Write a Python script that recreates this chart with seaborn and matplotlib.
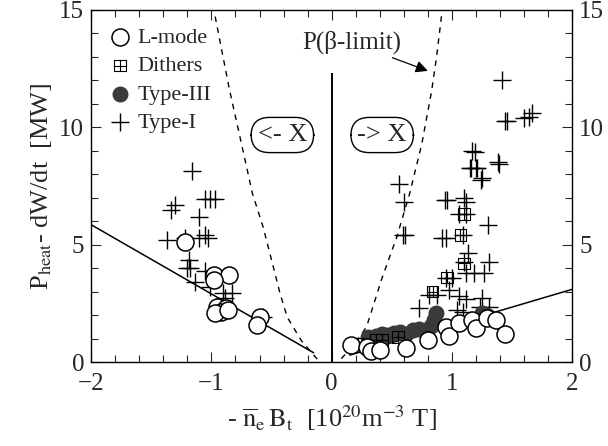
import numpy as np
import pandas as pd
import matplotlib
matplotlib.use("Agg")
import matplotlib.pyplot as plt
from matplotlib.path import Path
from matplotlib.ticker import MultipleLocator
import seaborn as sns

sns.set_theme(style="ticks")
plt.rcParams['font.family'] = ['Liberation Serif', 'DejaVu Serif']
plt.rcParams['mathtext.fontset'] = 'stix'

# ---------------- data ----------------
lmode_x = [-1.22, -0.98, -0.85, -0.98, -0.95, -0.88, -0.92, -0.97, -0.86, -0.60, -0.62,
           0.16, 0.29, 0.33, 0.40, 0.62, 0.80, 0.95, 0.98, 1.06, 1.17, 1.20, 1.29, 1.37, 1.44]
lmode_y = [5.10, 3.70, 3.70, 3.50, 2.35, 2.30, 2.15, 2.10, 2.20, 1.92, 1.57,
           0.75, 0.65, 0.47, 0.50, 0.60, 0.95, 1.50, 1.10, 1.65, 1.80, 1.45, 1.90, 1.80, 1.20]

dither_x = [0.22, 0.37, 0.42, 0.55, 0.84, 1.10, 1.07, 1.10, 0.96]
dither_y = [0.80, 0.94, 0.94, 1.07, 3.00, 4.20, 5.40, 6.30, 3.60]

type3_x = [0.30, 0.37, 0.42, 0.47, 0.52, 0.57, 0.62, 0.68, 0.73, 0.83, 0.85, 0.87, 1.25, 1.30]
type3_y = [1.05, 1.10, 1.20, 1.15, 1.25, 1.30, 1.20, 1.35, 1.40, 1.55, 1.80, 2.10, 2.10, 1.95]

type1_x = [-1.16, -1.34, -1.30, -1.05, -1.01, -0.97, -1.10, -1.37, -1.22, -1.10, -1.05, -1.03,
           -1.19, -1.20, -1.18, -1.05, -1.14, -1.01, -0.90, -0.83, -0.89, -0.57,
           0.56, 0.60, 0.59, 0.61, 1.19, 1.16, 1.21, 1.25, 1.38, 0.94, 0.96, 1.12, 1.06, 1.12,
           1.30, 0.92, 0.95, 1.09, 1.13, 1.10, 1.31, 0.95, 1.00, 1.12, 1.18, 1.27, 0.81, 0.88,
           0.98, 1.06, 1.12, 1.25, 0.73, 1.04, 1.09, 1.23, 1.31,
           1.42, 1.44, 1.46, 1.60, 1.64, 1.67, 1.17, 1.39, 1.15, 1.20, 1.24, 1.10]
type1_y = [8.15, 6.48, 6.70, 6.95, 6.95, 6.95, 6.20, 5.20, 5.28, 5.28, 5.40, 5.28,
           4.35, 4.00, 4.00, 3.90, 3.40, 3.20, 2.94, 2.94, 2.73, 1.92,
           7.60, 6.80, 5.40, 5.40, 8.95, 8.27, 8.27, 7.85, 8.50, 6.90, 6.90, 6.80, 6.30, 6.30,
           5.84, 5.28, 5.28, 5.40, 4.64, 4.26, 4.26, 3.60, 3.60, 3.80, 3.80, 3.80, 2.86, 2.86,
           3.07, 2.80, 2.70, 2.75, 2.30, 2.20, 2.15, 2.34, 2.34,
           12.00, 10.27, 10.27, 10.40, 10.45, 10.60, 9.00, 8.45, 8.27, 8.27, 7.75, 7.00]

# threshold lines
left_fit_x = [-2.0, -0.15]
left_fit_y = [5.85, 0.40]
right_fit_x = [0.15, 2.0]
right_fit_y = [0.30, 3.10]

# beta-limit curves
beta_r_x = [0.08, 0.18, 0.29, 0.42, 0.54, 0.65, 0.75, 0.83, 0.87, 0.92]
beta_r_y = [0.15, 0.70, 1.50, 3.60, 5.30, 7.20, 9.30, 11.50, 12.90, 15.0]
beta_l_x = [-0.12, -0.25, -0.37, -0.43, -0.50, -0.57, -0.66, -0.72, -0.85, -0.98]
beta_l_y = [0.13, 0.90, 1.92, 2.94, 4.35, 5.75, 7.20, 8.60, 11.60, 15.0]

zero_line_top = 12.3

# ---------------- figure ----------------
fig = plt.figure(figsize=(6.08, 4.46), dpi=100)
ax = fig.add_axes([0.150, 0.188, 0.791, 0.790])

# boxed-plus marker for dithers
box_plus = Path(
    [(-1, -1), (1, -1), (1, 1), (-1, 1), (-1, -1), (-1, 0), (1, 0), (0, -1), (0, 1)],
    [Path.MOVETO, Path.LINETO, Path.LINETO, Path.LINETO, Path.CLOSEPOLY,
     Path.MOVETO, Path.LINETO, Path.MOVETO, Path.LINETO])

sns.lineplot(x=left_fit_x, y=left_fit_y, ax=ax, color='black', lw=1.1, sort=False,
             estimator=None)
sns.lineplot(x=right_fit_x, y=right_fit_y, ax=ax, color='black', lw=1.1, sort=False,
             estimator=None)
sns.lineplot(x=beta_r_x, y=beta_r_y, ax=ax, color='black', lw=1.0, sort=False,
             estimator=None, linestyle=(0, (4, 4)))
sns.lineplot(x=beta_l_x, y=beta_l_y, ax=ax, color='black', lw=1.0, sort=False,
             estimator=None, linestyle=(0, (4, 4)))
ax.vlines(0, 0, zero_line_top, color='black', lw=1.4)

sns.scatterplot(x=type1_x, y=type1_y, ax=ax, marker='+', s=150, color='black',
                linewidth=1.0, label='Type-I', zorder=3)
sns.scatterplot(x=type3_x, y=type3_y, ax=ax, marker='o', s=110, color='#3a3a3a',
                edgecolor='#3a3a3a', linewidth=1.0, label='Type-III', zorder=4)
sns.scatterplot(x=dither_x, y=dither_y, ax=ax, marker=box_plus, s=70, facecolor='none',
                edgecolor='black', linewidth=0.8, label='Dithers', zorder=5)
sns.scatterplot(x=lmode_x, y=lmode_y, ax=ax, marker='o', s=150, facecolor='white',
                edgecolor='black', linewidth=1.1, label='L-mode', zorder=6)

ax.set_xlim(-2, 2)
ax.set_ylim(0, 15)
ax.xaxis.set_major_locator(MultipleLocator(1))
ax.xaxis.set_minor_locator(MultipleLocator(0.2))
ax.yaxis.set_major_locator(MultipleLocator(5))
ax.yaxis.set_minor_locator(MultipleLocator(1))
ax.tick_params(which='both', direction='in', top=True, right=True, labelright=True,
               labelsize=18, width=0.8)
ax.tick_params(which='major', length=7)
ax.tick_params(axis='x', which='major', pad=8)
ax.tick_params(axis='y', which='major', pad=5)
ax.tick_params(which='minor', length=5)
for sp in ax.spines.values():
    sp.set_linewidth(1.0)
    sp.set_color('black')

ax.set_xlabel(r'- $\overline{\mathrm{n}}_{\mathrm{e}}\,\mathrm{B}_{\mathrm{t}}$  [10$^{20}$m$^{-3}$ T]',
              fontsize=19, labelpad=6)
ax.set_ylabel(r'P$_{\mathrm{heat}}$- dW/dt  [MW]', fontsize=19, labelpad=4)

# legend
handles, labels = ax.get_legend_handles_labels()
order = [labels.index(l) for l in ['L-mode', 'Dithers', 'Type-III', 'Type-I']]
ax.legend([handles[i] for i in order], [labels[i] for i in order], loc='upper left',
          frameon=False, fontsize=16, handletextpad=0.3, labelspacing=0.35,
          borderaxespad=0.5, borderpad=0.3, handlelength=1.0)

# annotations
ax.annotate('P(β-limit)', xy=(0.80, 12.4), xytext=(0.17, 13.6), fontsize=18,
            ha='center', va='center',
            arrowprops=dict(arrowstyle='-|>', color='black', lw=0.9,
                            shrinkA=44, shrinkB=0, mutation_scale=18))
for tx, t in [(-0.41, '<- X'), (0.42, '-> X')]:
    ax.text(tx, 9.67, t, fontsize=19, ha='center', va='center',
            bbox=dict(boxstyle='round,pad=0.25,rounding_size=0.7', fc='white',
                      ec='black', lw=1.0))

fig.savefig('out.png', dpi=100)
